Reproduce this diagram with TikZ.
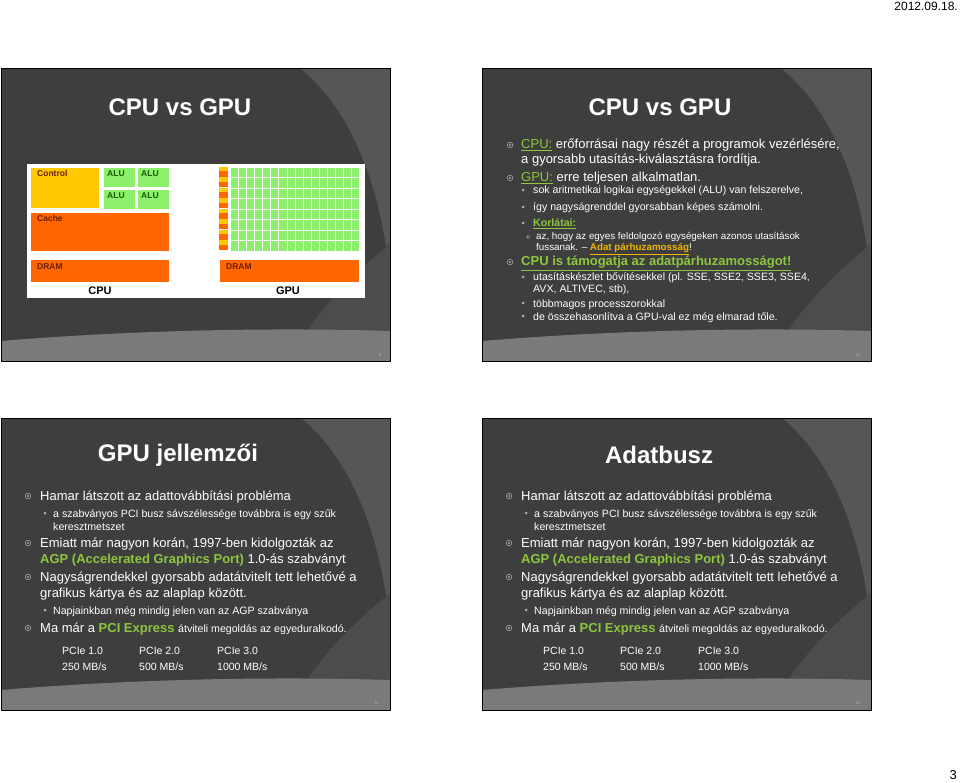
\documentclass[tikz,border=0pt]{standalone}
\usepackage{fontspec}
\setmainfont{Liberation Sans}
\definecolor{sdark}{HTML}{3E3E3E}
\definecolor{slight}{HTML}{565656}
\definecolor{smid}{HTML}{4C4C4C}
\definecolor{sband}{HTML}{7A7A7A}
\definecolor{lgreen}{HTML}{8DC63F}
\definecolor{lgold}{HTML}{F0B400}
\definecolor{cor}{HTML}{FF6600}
\definecolor{cye}{HTML}{FFC800}
\definecolor{cgr}{HTML}{8CF06C}
\definecolor{cbr}{HTML}{6A2000}
\definecolor{cdg}{HTML}{1E5A00}
\tikzset{
  tx/.style={anchor=base west, inner sep=0pt, text=white},
  big/.style={font=\fontsize{13}{15}\selectfont},
  sml/.style={font=\fontsize{10.6}{12}\selectfont},
  tiny/.style={font=\fontsize{9.8}{11}\selectfont},
  ttl/.style={inner sep=0pt, text=white, font=\bfseries\fontsize{24}{28}\selectfont},
  blk/.style={draw=white, line width=0.6pt},
  lbl/.style={anchor=north west, inner sep=0pt, font=\bfseries\fontsize{8.5}{10}\selectfont},
}
\newcommand{\slidebg}[2]{%
  \begin{scope}[shift={(#1,#2)}]
    \fill[sdark] (0,0) rectangle (389,292);
    \fill[slight] (300,0) .. controls (355,45) and (383,130) .. (389,215) -- (389,0) -- cycle;
    \fill[smid] (389,175) .. controls (340,215) and (305,255) .. (290,292) -- (389,292) -- cycle;
    \fill[sband] (0,272) .. controls (120,262) and (260,258) .. (389,262) -- (389,292) -- (0,292) -- cycle;
    \draw[black, line width=1pt] (0,0) rectangle (389,292);
  \end{scope}}
\newcommand{\mainb}[2]{\draw[gray!70, line width=0.6pt] (#1,#2) circle (2.8); \fill[gray!70] (#1,#2) circle (1.2);}
\newcommand{\subb}[2]{\fill[gray!65] (#1,#2) circle (1.5);}
\newcommand{\subsubb}[2]{\draw[gray!65, line width=0.5pt] (#1,#2) circle (1.6);}
\begin{document}
\begin{tikzpicture}[x=1pt,y=-1pt]
\useasboundingbox (0,0) rectangle (960,783);
\fill[white] (0,0) rectangle (960,783);
\node[anchor=north east, inner sep=0pt, font=\fontsize{12}{14}\selectfont] (date) at (958,2) {2012.09.18.};
\node[anchor=south east, inner sep=0pt, font=\fontsize{13}{15}\selectfont] (pg) at (957,780) {3};
\slidebg{1}{69}
\slidebg{482}{69}
\slidebg{1}{418}
\slidebg{482}{418}
% slide numbers
\node[inner sep=0pt, text=gray!60, font=\fontsize{4}{5}\selectfont] (n9) at (380,355) {9};
\node[inner sep=0pt, text=gray!60, font=\fontsize{4}{5}\selectfont] (n10) at (858,355) {10};
\node[inner sep=0pt, text=gray!60, font=\fontsize{4}{5}\selectfont] (n11) at (377,703) {11};
\node[inner sep=0pt, text=gray!60, font=\fontsize{4}{5}\selectfont] (n12) at (858,703) {12};
% ---------- slide 1
\node[ttl] (t1) at (180,107) {CPU vs GPU};
\fill[white] (27,164) rectangle (365,298);
\filldraw[fill=cye, blk] (30,167) rectangle (99,208);
\node[lbl, text=cbr] (ctl) at (37,170) {Control};
\foreach \x in {103,137}{\foreach \y in {167,189}{
  \filldraw[fill=cgr, blk] (\x,\y) rectangle (\x+32,\y+20);
  \node[lbl, text=cdg] at (\x+4,\y+3) {ALU};}}
\filldraw[fill=cor, blk] (30,212) rectangle (169,251);
\node[lbl, text=cbr] (cache) at (37,215) {Cache};
\filldraw[fill=cor, blk] (30,259) rectangle (169,282);
\node[lbl, text=cbr] (dr1) at (37,263) {DRAM};
\node[inner sep=0pt, font=\bfseries\fontsize{11}{13}\selectfont] (cpul) at (100,291) {CPU};
\foreach \r in {0,...,7}{
  \fill[cye] (219,167+\r*10.5) rectangle (228,167+\r*10.5+4.5);
  \fill[cor] (219,167+\r*10.5+4.5) rectangle (228,167+\r*10.5+10);
  \foreach \c in {0,...,15}{
    \filldraw[fill=cgr, draw=white, line width=0.4pt] (230+\c*8.1,167+\r*10.5) rectangle (230+\c*8.1+8.1,167+\r*10.5+10.5);}}
\filldraw[fill=cor, blk] (219,259) rectangle (359,282);
\node[lbl, text=cbr] (dr2) at (226,263) {DRAM};
\node[inner sep=0pt, font=\bfseries\fontsize{11}{13}\selectfont] (gpul) at (288,291) {GPU};
% ---------- slide 2
\node[ttl] (t2) at (660,107) {CPU vs GPU};
\mainb{510}{145}
\node[tx,big] (a1) at (521,149) {\textcolor{lgreen}{\underline{CPU:}} erőforrásai nagy részét a programok vezérlésére,};
\node[tx,big] (a2) at (521,164) {a gyorsabb utasítás-kiválasztásra fordítja.};
\mainb{510}{178}
\node[tx,big] (a3) at (521,182) {\textcolor{lgreen}{\underline{GPU:}} erre teljesen alkalmatlan.};
\subb{523}{190}
\node[tx,sml] (a4) at (533,194) {sok aritmetikai logikai egységekkel (ALU) van felszerelve,};
\subb{523}{207}
\node[tx,sml] (a5) at (533,211) {így nagyságrenddel gyorsabban képes számolni.};
\subb{523}{223}
\node[tx,sml] (a6) at (533,227) {\textcolor{lgreen}{\underline{\textbf{Korlátai:}}}};
\subsubb{528}{237}
\node[tx,tiny] (a7) at (536,240) {az, hogy az egyes feldolgozó egységeken azonos utasítások};
\node[tx,tiny] (a8) at (536,251) {fussanak. -- \textcolor{lgold}{\underline{\textbf{Adat párhuzamosság}}}!};
\mainb{510}{262}
\node[tx,big] (a9) at (521,266) {\textcolor{lgreen}{\underline{\textbf{CPU is támogatja az adatpárhuzamosságot!}}}};
\subb{523}{277}
\node[tx,sml] (a10) at (533,281) {utasításkészlet bővítésekkel (pl. SSE, SSE2, SSE3, SSE4,};
\node[tx,sml] (a11) at (533,293) {AVX, ALTIVEC, stb),};
\subb{523}{303}
\node[tx,sml] (a12) at (533,307) {többmagos processzorokkal};
\subb{523}{316}
\node[tx,sml] (a13) at (533,320) {de összehasonlítva a GPU-val ez még elmarad tőle.};
% ---------- slides 3 and 4
\foreach \dx/\ttext/\nm in {0/{GPU jellemzői}/s3, 481/{Adatbusz}/s4}{
\begin{scope}[xshift=\dx]
\node[ttl] (\nm t) at (178,455) {\ttext};
\mainb{28}{496}
\node[tx,big] (\nm b1) at (40,500) {Hamar látszott az adattovábbítási probléma};
\subb{45}{513}
\node[tx,sml] (\nm b2) at (53,517) {a szabványos PCI busz sávszélessége továbbra is egy szűk};
\node[tx,sml] (\nm b3) at (53,530) {keresztmetszet};
\mainb{28}{543}
\node[tx,big] (\nm b4) at (40,547) {Emiatt már nagyon korán, 1997-ben kidolgozták az};
\node[tx,big] (\nm b5) at (40,563) {\textcolor{lgreen}{\textbf{AGP (Accelerated Graphics Port)}} 1.0-ás szabványt};
\mainb{28}{577}
\node[tx,big] (\nm b6) at (40,581) {Nagyságrendekkel gyorsabb adatátvitelt tett lehetővé a};
\node[tx,big] (\nm b7) at (40,597) {grafikus kártya és az alaplap között.};
\subb{45}{610}
\node[tx,sml] (\nm b8) at (53,614) {Napjainkban még mindig jelen van az AGP szabványa};
\mainb{28}{628}
\node[tx,big] (\nm b9) at (40,632) {Ma már a \textcolor{lgreen}{\textbf{PCI Express}} {\fontsize{10.6}{12}\selectfont átviteli megoldás az egyeduralkodó.}};
\node[tx,font=\fontsize{10.5}{12}\selectfont] (\nm p1) at (62,654) {PCIe 1.0};
\node[tx,font=\fontsize{10.5}{12}\selectfont] (\nm p2) at (139,654) {PCIe 2.0};
\node[tx,font=\fontsize{10.5}{12}\selectfont] (\nm p3) at (217,654) {PCIe 3.0};
\node[tx,font=\fontsize{10.5}{12}\selectfont] (\nm r1) at (62,670) {250 MB/s};
\node[tx,font=\fontsize{10.5}{12}\selectfont] (\nm r2) at (139,670) {500 MB/s};
\node[tx,font=\fontsize{10.5}{12}\selectfont] (\nm r3) at (217,670) {1000 MB/s};
\end{scope}}
\end{tikzpicture}
\end{document}
